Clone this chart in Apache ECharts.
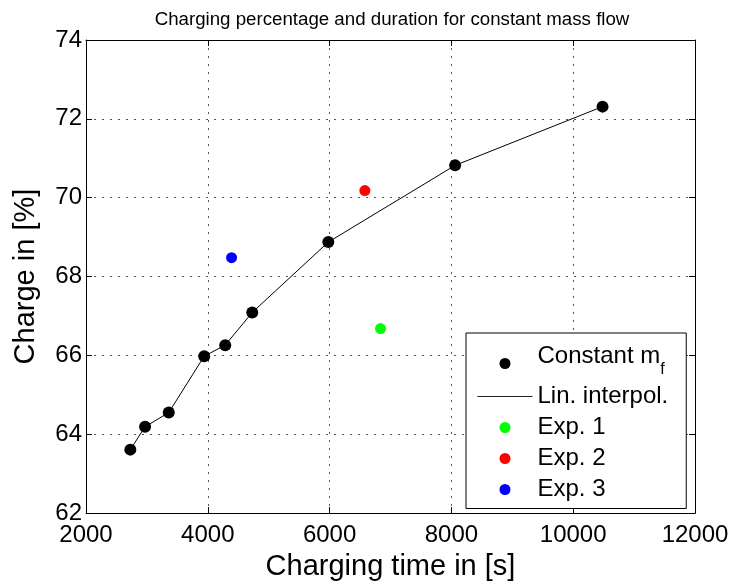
<!DOCTYPE html>
<html>
<head>
<meta charset="utf-8">
<script src="https://cdn.jsdelivr.net/npm/echarts@6/dist/echarts.min.js"></script>
<style>
html,body{margin:0;padding:0;background:#fff;}
#chart{width:734px;height:586px;}
</style>
</head>
<body>
<div id="chart"></div>
<script>
// Data
var constTime   = [2728, 2970, 3359, 3941, 4286, 4730, 5979, 8061, 10482];
var constCharge = [63.61, 64.19, 64.55, 65.98, 66.26, 67.09, 68.875, 70.82, 72.31];
var exp1Time = [6836], exp1Charge = [66.68];
var exp2Time = [6579], exp2Charge = [70.18];
var exp3Time = [4390], exp3Charge = [68.48];
var xTicks = [2000, 4000, 6000, 8000, 10000, 12000];
var yTicks = [62, 64, 66, 68, 70, 72, 74];
var seriesNames = ['Constant m_f', 'Lin. interpol.', 'Exp. 1', 'Exp. 2', 'Exp. 3'];

function pairs(xs, ys) { return xs.map(function (x, i) { return [x, ys[i]]; }); }

var FONT = "'Liberation Sans', Arial, Helvetica, sans-serif";
var chart = echarts.init(document.getElementById('chart'), null, {renderer: 'canvas'});

var xMin = xTicks[0], xMax = xTicks[xTicks.length - 1], xInt = xTicks[1] - xTicks[0];
var yMin = yTicks[0], yMax = yTicks[yTicks.length - 1], yInt = yTicks[1] - yTicks[0];

var gridDot = {type: [2, 6], color: '#555', width: 1};

var option = {
  animation: false,
  backgroundColor: '#fff',
  textStyle: {fontFamily: FONT},
  title: {
    text: 'Charging percentage and duration for constant mass flow',
    left: 387, top: 5, textAlign: 'center',
    textStyle: {fontFamily: FONT, fontSize: 18.7, fontWeight: 'normal', color: '#000'}
  },
  grid: {left: 86, right: 39, top: 40, bottom: 69, containLabel: false},
  legend: {
    orient: 'vertical',
    left: 466, top: 333,
    padding: [11.5, 18, 7, 11],
    itemGap: 7,
    itemWidth: 55, itemHeight: 11,
    itemTextGap: 6,
    borderColor: '#000', borderWidth: 1, backgroundColor: '#fff',
    data: [
      {name: seriesNames[0], icon: 'circle'},
      {name: seriesNames[1], itemStyle: {opacity: 0}, lineStyle: {width: 1, color: '#222'}},
      {name: seriesNames[2], icon: 'circle'},
      {name: seriesNames[3], icon: 'circle'},
      {name: seriesNames[4], icon: 'circle'}
    ],
    selectedMode: false,
    formatter: function (name) {
      if (name === 'Constant m_f') return '{n|Constant m}{sub|f}';
      return name;
    },
    textStyle: {
      fontFamily: FONT, fontSize: 24, color: '#000',
      rich: {
        n: {fontFamily: FONT, fontSize: 24, color: '#000', padding: [0, 0, 14, 0]},
        sub: {fontFamily: FONT, fontSize: 16, color: '#000', padding: [17, 0, 5, 0]}
      }
    }
  },
  xAxis: [{
    type: 'value', min: xMin, max: xMax, interval: xInt,
    name: 'Charging time in [s]', nameLocation: 'middle', nameGap: 33,
    nameTextStyle: {fontFamily: FONT, fontSize: 29, color: '#000'},
    axisLine: {show: true, onZero: false, lineStyle: {color: '#000', width: 1}},
    axisTick: {show: true, inside: true, length: 6, lineStyle: {color: '#000'}},
    axisLabel: {fontFamily: FONT, fontSize: 24, color: '#000', margin: 10,
                formatter: function (v) { return String(v); }},
    splitLine: {show: true, lineStyle: gridDot}
  }, {
    type: 'value', position: 'top', min: xMin, max: xMax, interval: xInt,
    axisLine: {show: true, onZero: false, lineStyle: {color: '#000', width: 1}},
    axisTick: {show: true, inside: true, length: 6, lineStyle: {color: '#000'}},
    axisLabel: {show: false}, splitLine: {show: false}
  }],
  yAxis: [{
    type: 'value', min: yMin, max: yMax, interval: yInt,
    name: 'Charge in [%]', nameLocation: 'middle', nameGap: 46,
    nameTextStyle: {fontFamily: FONT, fontSize: 29, color: '#000'},
    axisLine: {show: true, onZero: false, lineStyle: {color: '#000', width: 1}},
    axisTick: {show: true, inside: true, length: 6, lineStyle: {color: '#000'}},
    axisLabel: {fontFamily: FONT, fontSize: 24, color: '#000', margin: 4,
                formatter: function (v) { return String(v); }},
    splitLine: {show: true, lineStyle: gridDot}
  }, {
    type: 'value', position: 'right', min: yMin, max: yMax, interval: yInt,
    axisLine: {show: true, onZero: false, lineStyle: {color: '#000', width: 1}},
    axisTick: {show: true, inside: true, length: 6, lineStyle: {color: '#000'}},
    axisLabel: {show: false}, splitLine: {show: false}
  }],
  series: [
    {
      name: seriesNames[0], type: 'scatter', symbol: 'circle', symbolSize: 12,
      itemStyle: {color: '#000', opacity: 1}, z: 3,
      data: pairs(constTime, constCharge)
    },
    {
      name: seriesNames[1], type: 'line', symbol: 'none', showSymbol: false,
      lineStyle: {color: '#000', width: 1}, itemStyle: {color: '#000'}, z: 2,
      data: pairs(constTime, constCharge)
    },
    {
      name: seriesNames[2], type: 'scatter', symbol: 'circle', symbolSize: 11,
      itemStyle: {color: '#00ff00', opacity: 1}, z: 3,
      data: pairs(exp1Time, exp1Charge)
    },
    {
      name: seriesNames[3], type: 'scatter', symbol: 'circle', symbolSize: 11,
      itemStyle: {color: '#ff0000', opacity: 1}, z: 3,
      data: pairs(exp2Time, exp2Charge)
    },
    {
      name: seriesNames[4], type: 'scatter', symbol: 'circle', symbolSize: 11,
      itemStyle: {color: '#0000ff', opacity: 1}, z: 3,
      data: pairs(exp3Time, exp3Charge)
    }
  ]
};
chart.setOption(option);
</script>
</body>
</html>
